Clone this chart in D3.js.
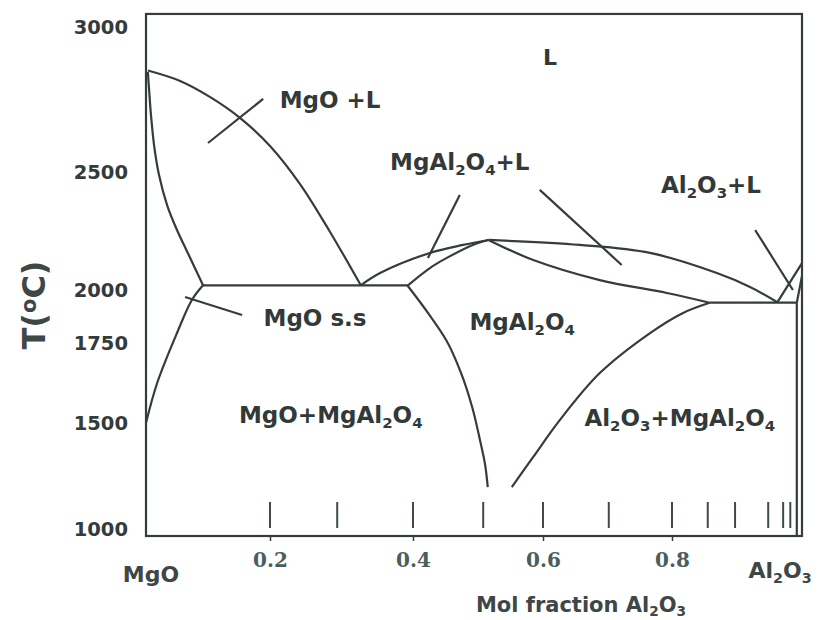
<!DOCTYPE html>
<html><head><meta charset="utf-8">
<script src="https://cdn.jsdelivr.net/npm/d3@7"></script>
<style>body{margin:0;background:#fff}</style>
</head><body><svg id="c" width="818" height="620"></svg>
<script>
// ---------- data ----------
const xTickValues = [0.2, 0.4, 0.6, 0.8];
const xTickLabels = ["0.2", "0.4", "0.6", "0.8"];
const yTickValues = [1000, 1500, 1750, 2000, 2500, 3000];
const yTickLabels = ["1000", "1500", "1750", "2000", "2500", "3000"];
const markValues = [0.2, 0.294, 0.4, 0.508, 0.6, 0.702, 0.8, 0.855, 0.897, 0.948, 0.971, 0.982];
const tMin = 967, tMax = 3045;

// phase boundaries: [mol fraction Al2O3, T (°C)]
const mgoLiquidus   = [[0.003,2850],[0.055,2814],[0.103,2759],[0.152,2686],[0.200,2590],[0.242,2449],[0.284,2246],[0.327,2020]];
const mgoSolidus    = [[0.003,2845],[0.005,2783],[0.008,2697],[0.013,2593],[0.021,2487],[0.034,2360],[0.050,2254],[0.069,2148],[0.092,2020]];
const mgoSolvus     = [[0.092,2020],[0.074,1953],[0.050,1797],[0.018,1625],[0.0,1500]];
const eutecticLeft  = [[0.092,2020],[0.393,2020]];
const spLiqLeft     = [[0.327,2020],[0.354,2072],[0.426,2157],[0.477,2191],[0.516,2212]];
const spSolLeft     = [[0.393,2020],[0.426,2093],[0.452,2136],[0.492,2191],[0.516,2212]];
const spLiqRight    = [[0.516,2212],[0.657,2191],[0.766,2157],[0.869,2072],[0.920,2013],[0.962,1942]];
const spSolRight    = [[0.516,2212],[0.585,2127],[0.688,2042],[0.792,1986],[0.858,1940]];
const eutecticRight = [[0.858,1940],[0.992,1940]];
const spSolvusRight = [[0.858,1940],[0.817,1892],[0.766,1797],[0.688,1656],[0.626,1509],[0.585,1340],[0.552,1198]];
const spSolvusLeft  = [[0.392,2020],[0.423,1892],[0.451,1764],[0.474,1656],[0.491,1550],[0.503,1420],[0.511,1302],[0.515,1198]];
const alLiquidus    = [[0.962,1942],[1.0,2114]];
const alSolidus     = [[0.992,1940],[1.0,2060]];
const alSolvus      = [[0.992,1940],[0.992,967]];
const curves = [mgoLiquidus, mgoSolidus, mgoSolvus, eutecticLeft, spLiqLeft, spSolLeft,
  spLiqRight, spSolRight, eutecticRight, spSolvusRight, alLiquidus, alSolidus, alSolvus];

// label pointer lines
const pointers = [
  [[0.100,2600],[0.189,2752]],
  [[0.063,1967],[0.155,1882]],
  [[0.472,2403],[0.423,2136]],
  [[0.595,2424],[0.722,2106]],
  [[0.928,2254],[0.986,2000]]
];

// region labels ("_n" = subscript n)
const regionLabels = ["L", "MgO +L", "MgAl_2O_4+L", "Al_2O_3+L", "MgO s.s", "MgAl_2O_4", "MgO+MgAl_2O_4", "Al_2O_3+MgAl_2O_4"];
const regionX = [0.611, 0.284, 0.472, 0.860, 0.263, 0.568, 0.285, 0.812];
const regionT = [2897, 2748, 2534, 2445, 1868, 1849, 1525, 1516];

// ---------- drawing ----------
const svg = d3.select("#c");
const x = d3.scaleLinear().domain([0, 0.2, 0.4, 0.6, 0.8, 1]).range([146, 270, 413, 543, 672, 802]);
const y = d3.scaleLinear().domain([1000, 1500, 1750, 2000, 2500, 3000]).range([529, 423, 343, 290, 172, 27]);

const ink = "#343c3c";
const font = "'DejaVu Sans', sans-serif";

function rich(sel, str) {
  const parts = str.split(/(_\d)/).filter(s => s.length);
  let sub = false;
  parts.forEach(p => {
    if (p.startsWith("_")) {
      sel.append("tspan").attr("font-size", "0.65em").attr("dy", "0.32em").text(p.slice(1));
      sub = true;
    } else {
      const t = sel.append("tspan").text(p);
      if (sub) { t.attr("dy", "-0.208em"); sub = false; }
    }
  });
}

// frame
svg.append("rect")
  .attr("x", x(0)).attr("y", y(tMax))
  .attr("width", x(1) - x(0)).attr("height", y(tMin) - y(tMax))
  .attr("fill", "none").attr("stroke", ink).attr("stroke-width", 2.2);

// x axis
const xAxis = svg.append("g").attr("transform", `translate(0,${y(tMin)})`)
  .call(d3.axisBottom(x).tickValues(xTickValues).tickFormat((d, i) => xTickLabels[i]).tickSize(5).tickPadding(12));
xAxis.select(".domain").remove();
xAxis.selectAll("line").attr("stroke", ink).attr("stroke-width", 1.5);
xAxis.selectAll("text").attr("font-family", "'DejaVu Serif', serif").attr("font-weight", "bold")
  .attr("font-size", 20).attr("fill", "#4c5e5b");

// y axis
const yAxis = svg.append("g").attr("transform", `translate(${x(0)},0)`)
  .call(d3.axisLeft(y).tickValues(yTickValues).tickFormat((d, i) => yTickLabels[i]).tickSize(0).tickPadding(18));
yAxis.select(".domain").remove();
yAxis.selectAll("text").attr("font-family", font).attr("font-weight", "bold")
  .attr("font-size", 19.5).attr("fill", "#343b3b");

// inner marks
svg.append("g").selectAll("line").data(markValues).join("line")
  .attr("x1", d => x(d)).attr("x2", d => x(d))
  .attr("y1", y(1000) - 27).attr("y2", y(1000) - 1)
  .attr("stroke", "#3f4a4a").attr("stroke-width", 2);

// curves
const line = d3.line().x(d => x(d[0])).y(d => y(d[1])).curve(d3.curveCatmullRom.alpha(0.5));
svg.append("g").selectAll("path").data(curves).join("path")
  .attr("d", line).attr("fill", "none").attr("stroke", ink).attr("stroke-width", 2.2)
  .attr("stroke-linejoin", "round");
const lineY = d3.line().x(d => x(d[0])).y(d => y(d[1])).curve(d3.curveMonotoneY);
svg.append("path").datum(spSolvusLeft)
  .attr("d", lineY).attr("fill", "none").attr("stroke", ink).attr("stroke-width", 2.2);

const straight = d3.line().x(d => x(d[0])).y(d => y(d[1]));
svg.append("g").selectAll("path").data(pointers).join("path")
  .attr("d", straight).attr("fill", "none").attr("stroke", ink).attr("stroke-width", 2.2);

// region labels
regionLabels.forEach((lab, i) => {
  const fs = 23;
  const t = svg.append("text")
    .attr("x", x(regionX[i])).attr("y", y(regionT[i]) + fs * 0.36)
    .attr("text-anchor", "middle").attr("font-family", font).attr("font-weight", "bold")
    .attr("font-size", lab === "L" ? 22 : fs).attr("fill", "#323939");
  rich(t, lab);
});

// end-member labels
const endLab = [["MgO", 0, 574], ["Al_2O_3", 1, 570]];
endLab.forEach(([lab, v, py]) => {
  const t = svg.append("text").attr("x", x(v) + (v === 0 ? 5 : -22)).attr("y", py + 8)
    .attr("text-anchor", "middle").attr("font-family", font).attr("font-weight", "bold")
    .attr("font-size", 22).attr("fill", "#3e4646");
  rich(t, lab);
});

// axis titles
const xt = svg.append("text").attr("x", 581).attr("y", 612)
  .attr("text-anchor", "middle").attr("font-family", font).attr("font-weight", "bold")
  .attr("font-size", 21).attr("fill", "#3e4646");
rich(xt, "Mol fraction Al_2O_3");

const yt = svg.append("text").attr("transform", "translate(45,305) rotate(-90)")
  .attr("text-anchor", "middle").attr("font-family", font).attr("font-weight", "bold")
  .attr("font-size", 32).attr("fill", "#3e4646");
yt.append("tspan").text("T(");
yt.append("tspan").attr("font-size", 21).attr("dy", -9).text("o");
yt.append("tspan").attr("dy", 9).text("C)");
</script>
</body></html>
